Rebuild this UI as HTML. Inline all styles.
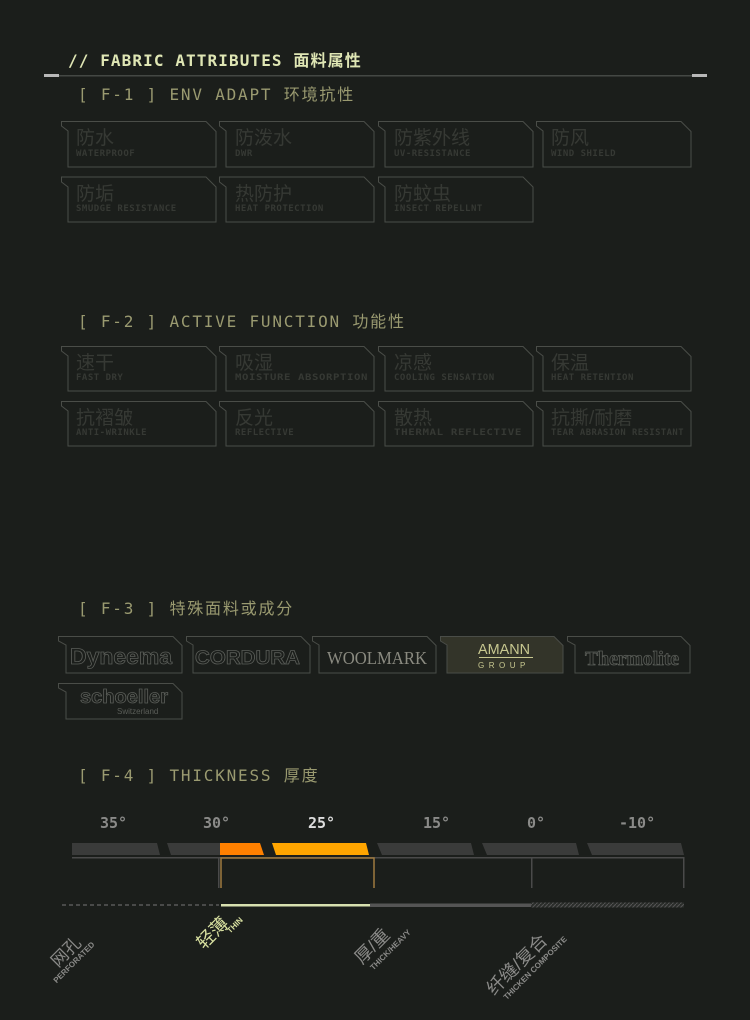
<!DOCTYPE html>
<html><head><meta charset="utf-8"><style>
html,body{margin:0;padding:0;background:#1b1e1b;}
svg{display:block}
text{font-family:"Liberation Sans","Noto Sans CJK SC",sans-serif;}
.m text, text.m{font-family:"DejaVu Sans Mono","Liberation Mono","Noto Sans CJK SC",monospace;}
</style></head><body>
<svg width="750" height="1020" viewBox="0 0 750 1020" xmlns="http://www.w3.org/2000/svg">
<defs>
<pattern id="hatch" width="4" height="4" patternUnits="userSpaceOnUse"><rect width="4" height="4" fill="#2a2d2a"/><path d="M0 4L4 0" stroke="#555" stroke-width="1"/></pattern>
</defs>
<rect width="750" height="1020" fill="#1b1e1b"/>
<text class="m" x="68" y="66" font-size="16" fill="#dfe6b4" font-weight="bold" letter-spacing="1.1">// FABRIC ATTRIBUTES 面料属性</text>
<rect x="44" y="75" width="662" height="1.5" fill="#444844"/>
<rect x="44" y="74" width="15" height="3" fill="#b8b8b8"/>
<rect x="692" y="74" width="15" height="3" fill="#b8b8b8"/>

<g class="m" fill="#9a9a70" font-size="16" letter-spacing="1.8">
<text x="78" y="100">[ F-1 ]  ENV ADAPT 环境抗性</text>
<text x="78" y="327">[ F-2 ]  ACTIVE FUNCTION 功能性</text>
<text x="78" y="614">[ F-3 ]  特殊面料或成分</text>
<text x="78" y="781">[ F-4 ]  THICKNESS 厚度</text>
</g>

<g fill="none" stroke="#4a4d48" stroke-width="1">
<path d="M61.5 121.5H206l10 10V167H68V131l-6.5-5z"/>
<path d="M219.5 121.5H364l10 10V167H226V131l-6.5-5z"/>
<path d="M378.5 121.5H523l10 10V167H385V131l-6.5-5z"/>
<path d="M536.5 121.5H681l10 10V167H543V131l-6.5-5z"/>
<path d="M61.5 177H206l10 10V222H68V187l-6.5-5z"/>
<path d="M219.5 177H364l10 10V222H226V187l-6.5-5z"/>
<path d="M378.5 177H523l10 10V222H385V187l-6.5-5z"/>
<path d="M61.5 346.5H206l10 10V391H68V356l-6.5-5z"/>
<path d="M219.5 346.5H364l10 10V391H226V356l-6.5-5z"/>
<path d="M378.5 346.5H523l10 10V391H385V356l-6.5-5z"/>
<path d="M536.5 346.5H681l10 10V391H543V356l-6.5-5z"/>
<path d="M61.5 401.5H206l10 10V446H68V411l-6.5-5z"/>
<path d="M219.5 401.5H364l10 10V446H226V411l-6.5-5z"/>
<path d="M378.5 401.5H523l10 10V446H385V411l-6.5-5z"/>
<path d="M536.5 401.5H681l10 10V446H543V411l-6.5-5z"/>
</g>
<g fill="#363934" font-size="19">
<text x="76" y="144">防水</text><text x="235" y="144">防泼水</text><text x="394" y="144">防紫外线</text><text x="551" y="144">防风</text>
<text x="76" y="200">防垢</text><text x="235" y="200">热防护</text><text x="394" y="200">防蚊虫</text>
<text x="76" y="369">速干</text><text x="235" y="369">吸湿</text><text x="394" y="369">凉感</text><text x="551" y="369">保温</text>
<text x="76" y="424">抗褶皱</text><text x="235" y="424">反光</text><text x="394" y="424">散热</text><text x="551" y="424">抗撕/耐磨</text>
</g>
<g class="m" fill="#363934" font-size="9" font-weight="bold" letter-spacing="0.5">
<text x="76" y="156">WATERPROOF</text><text x="235" y="156">DWR</text><text x="394" y="156">UV-RESISTANCE</text><text x="551" y="156">WIND SHIELD</text>
<text x="76" y="211">SMUDGE RESISTANCE</text><text x="235" y="211">HEAT PROTECTION</text><text x="394" y="211">INSECT REPELLNT</text>
<text x="76" y="380">FAST DRY</text><text x="235" y="380" textLength="133" lengthAdjust="spacingAndGlyphs">MOISTURE ABSORPTION</text><text x="394" y="380">COOLING SENSATION</text><text x="551" y="380">HEAT RETENTION</text>
<text x="76" y="435">ANTI-WRINKLE</text><text x="235" y="435">REFLECTIVE</text><text x="394" y="435" textLength="128" lengthAdjust="spacingAndGlyphs">THERMAL REFLECTIVE</text><text x="551" y="435" textLength="133" lengthAdjust="spacingAndGlyphs">TEAR ABRASION RESISTANT</text>
</g>

<path d="M440 636H554l9 9V673H447V645l-7-4z" fill="#333429"/>
<g fill="none" stroke="#4a4d48">
<path d="M58.5 636.5H173l9 9V673H66V645l-7.5-4z"/>
<path d="M186.5 636.5H301l9 9V673H193V645l-6.5-4z"/>
<path d="M312.5 636.5H427l9 9V673H319V645l-6.5-4z"/>
<path d="M440.5 636.5H554l9 9V673H447V645l-6.5-4z"/>
<path d="M567.5 636.5H681l9 9V673H575V645l-7.5-4z"/>
<path d="M58.5 683.5H173l9 9V719H66V692l-7.5-4z"/>
</g>
<g font-weight="bold" fill="none" stroke="#5a5d58" stroke-width="0.8">
<text x="70" y="664" font-size="22" textLength="102" lengthAdjust="spacingAndGlyphs">Dyneema</text>
<text x="195" y="664" font-size="19" textLength="105" lengthAdjust="spacingAndGlyphs">CORDURA</text>
<text x="585" y="665" font-size="20" style="font-family:'Liberation Serif',serif" textLength="94" lengthAdjust="spacingAndGlyphs">Thermolite</text>
<text x="80" y="703" font-size="19" textLength="88" lengthAdjust="spacingAndGlyphs">schoeller</text>
</g>
<text x="327" y="664" font-size="18" fill="#8a8a80" style="font-family:'Liberation Serif',serif" textLength="100" lengthAdjust="spacingAndGlyphs">WOOLMARK</text>
<text x="117" y="714" font-size="8" fill="#5a5d58">Switzerland</text>
<text x="478" y="654" font-size="15" fill="#c8c890" textLength="52" lengthAdjust="spacingAndGlyphs">AMANN</text>
<rect x="479" y="657" width="54" height="1" fill="#c8c890"/>
<text x="478" y="668" font-size="8" fill="#c8c890" letter-spacing="4.5">GROUP</text>

<g class="m" font-size="15" fill="#8a8a88" font-weight="bold">
<text x="100" y="828">35°</text><text x="203" y="828">30°</text><text x="308" y="828" fill="#ddd">25°</text>
<text x="423" y="828">15°</text><text x="527" y="828">0°</text><text x="619" y="828">-10°</text>
</g>
<g fill="#3a3b3a">
<path d="M72 843H157l3 12H72z"/>
<path d="M167 843H220V855H171z"/>
<path d="M377 843H471l3 12H382z"/>
<path d="M482 843H576l3 12H487z"/>
<path d="M587 843H681l3 12H592z"/>
</g>
<path d="M220 843H260l4 12H220z" fill="#ff8000"/>
<path d="M272 843H366l3 12H276z" fill="#ffa500"/>
<rect x="72" y="857" width="612" height="1.5" fill="#4a4a4a"/>
<g fill="#4a4a4a"><rect x="218" y="857" width="1.5" height="31"/><rect x="531" y="857" width="1.5" height="31"/><rect x="683" y="857" width="1.5" height="31"/></g>
<path d="M221 888V858H374V888" fill="none" stroke="#a07a40" stroke-width="1.5"/>
<line x1="62" y1="905" x2="219" y2="905" stroke="#777" stroke-dasharray="4,3"/>
<rect x="221" y="904" width="149" height="2.5" fill="#d8e0b0"/>
<rect x="370" y="903.5" width="161" height="3.5" fill="#555"/>
<rect x="531" y="902.5" width="153" height="5" fill="url(#hatch)"/>

<g transform="translate(58,968) rotate(-45)"><text x="0" y="0" font-size="17" fill="#8a8a88">网孔</text><text x="-12" y="10" font-size="8" fill="#8a8a88" font-weight="bold">PERFORATED</text></g>
<g transform="translate(204,950) rotate(-45)"><text x="0" y="0" font-size="18" fill="#d8e0a0">轻薄</text><text x="30" y="7" font-size="8" fill="#d8e0a0" font-weight="bold">THIN</text></g>
<g transform="translate(362,965) rotate(-45)"><text x="0" y="0" font-size="18" fill="#8a8a88">厚/重</text><text x="4" y="12" font-size="8" fill="#8a8a88" font-weight="bold">THICK/HEAVY</text></g>
<g transform="translate(494,996) rotate(-45)"><text x="0" y="0" font-size="18" fill="#8a8a88">纤缝/复合</text><text x="6" y="12" font-size="8" fill="#8a8a88" font-weight="bold">THICKEN COMPOSITE</text></g>
</svg>
</body></html>
